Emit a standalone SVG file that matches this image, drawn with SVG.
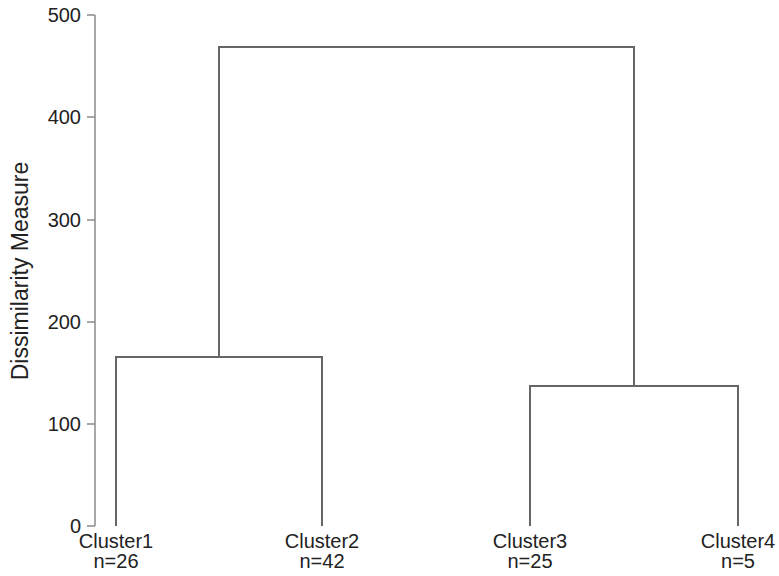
<svg xmlns="http://www.w3.org/2000/svg" width="779" height="576" viewBox="0 0 779 576">
  <style>
    .axis { stroke: #8c8c8c; stroke-width: 1.5; fill: none; }
    .tick-label { font-family: "Liberation Sans", Arial, sans-serif; font-size: 20px; fill: #222; text-anchor: end; }
    .leaf-label { font-family: "Liberation Sans", Arial, sans-serif; font-size: 20px; fill: #222; text-anchor: middle; }
    .title { font-family: "Liberation Sans", Arial, sans-serif; font-size: 23px; fill: #222; text-anchor: middle; }
    .link { stroke: #666; stroke-width: 2; fill: none; }
  </style>
  <rect width="779" height="576" fill="#fff"/>

  <!-- y axis -->
  <g id="y-axis">
    <path class="axis" d="M95,15 V526 M87,15 H95 M87,117 H95 M87,220 H95 M87,322 H95 M87,424 H95 M87,526 H95"/>
    <text class="tick-label" x="81" y="22">500</text>
    <text class="tick-label" x="81" y="124">400</text>
    <text class="tick-label" x="81" y="227">300</text>
    <text class="tick-label" x="81" y="329">200</text>
    <text class="tick-label" x="81" y="431">100</text>
    <text class="tick-label" x="81" y="533">0</text>
    <text class="title" transform="translate(28,271) rotate(-90)">Dissimilarity Measure</text>
  </g>

  <!-- dendrogram links -->
  <g id="connectors">
    <path class="link" d="M116,526 V357 H322 V526"/>
    <path class="link" d="M530,526 V386 H738 V526"/>
    <path class="link" d="M219,357 V47 H634 V386"/>
  </g>

  <!-- leaves -->
  <g id="cluster1">
    <text class="leaf-label" x="116" y="548">Cluster1</text>
    <text class="leaf-label" x="116" y="568">n=26</text>
  </g>
  <g id="cluster2">
    <text class="leaf-label" x="322" y="548">Cluster2</text>
    <text class="leaf-label" x="322" y="568">n=42</text>
  </g>
  <g id="cluster3">
    <text class="leaf-label" x="530" y="548">Cluster3</text>
    <text class="leaf-label" x="530" y="568">n=25</text>
  </g>
  <g id="cluster4">
    <text class="leaf-label" x="738" y="548">Cluster4</text>
    <text class="leaf-label" x="738" y="568">n=5</text>
  </g>
</svg>
